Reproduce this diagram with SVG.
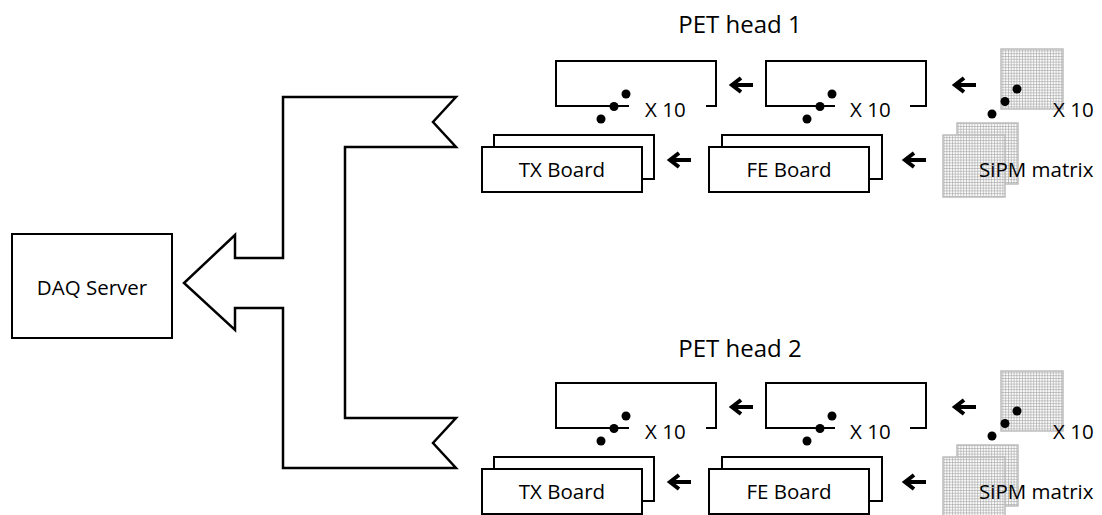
<svg xmlns="http://www.w3.org/2000/svg" xmlns:xlink="http://www.w3.org/1999/xlink" width="1102" height="515" viewBox="0 0 1102 515">
<style>
.box{fill:#fff;stroke:#000;stroke-width:2}
.br{fill:none;stroke:#000;stroke-width:2}
.t{font-family:"Open Sans","Liberation Sans",sans-serif;font-size:20.5px;fill:#000}
.th{font-family:"Open Sans","Liberation Sans",sans-serif;font-size:24px;fill:#000}
.dot{fill:#000}
.sipm{fill:url(#grid);stroke:#bdbdbd;stroke-width:1.5}
.arr{fill:none;stroke:#000;stroke-width:4;stroke-linejoin:miter}
.big{fill:#fff;stroke:#000;stroke-width:2.5;stroke-linejoin:miter}
</style>
<defs>
<pattern id="grid" patternUnits="userSpaceOnUse" x="0" y="0" width="2.8" height="2.8">
<rect width="2.8" height="2.8" fill="#fafafa"/>
<path d="M0,0.4H2.8M0.4,0V2.8" stroke="#9e9e9e" stroke-width="0.6"/>
</pattern>
<g id="sarr"><path class="arr" d="M24,0H4M12,-7L3,0L12,7"/></g>
<g id="dots3"><circle class="dot" cx="25" cy="0" r="4.5"/><circle class="dot" cx="13" cy="12.5" r="4.5"/><circle class="dot" cx="0" cy="25" r="4.5"/></g>
</defs>

<g id="daq-server">
<rect class="box" x="12" y="234" width="160" height="104"/>
<text class="t" x="92" y="295" text-anchor="middle">DAQ Server</text>
</g>

<g id="connectors">
<path class="big" d="M456,97 L433,122 L456,147 L345,147 L345,418 L456,418 L433,443 L456,468 L283,468 L283,308 L235,308 L235,330 L184,283 L235,235 L235,258 L283,258 L283,97 Z"/>
<use href="#sarr" x="729" y="85"/>
<use href="#sarr" x="952" y="85"/>
<use href="#sarr" x="667" y="160"/>
<use href="#sarr" x="902" y="160"/>
<use href="#sarr" x="729" y="407"/>
<use href="#sarr" x="952" y="407"/>
<use href="#sarr" x="667" y="482"/>
<use href="#sarr" x="902" y="482"/>
</g>

<g id="head1">
<text class="th" x="740" y="33" text-anchor="middle">PET head 1</text>
<g id="tx-bracket-1">
<path class="br" d="M629,106H556V61H716V106H706"/>
<use href="#dots3" x="601" y="94"/>
<text class="t" x="645" y="117">X 10</text>
</g>
<g id="fe-bracket-1">
<path class="br" d="M835,106H766V61H926V106H910"/>
<use href="#dots3" x="807" y="94"/>
<text class="t" x="850" y="117">X 10</text>
</g>
<g id="sipm-stack-1">
<rect class="sipm" x="1001" y="49" width="62" height="60"/>
<use href="#dots3" x="992" y="89"/>
<text class="t" x="1053" y="117">X 10</text>
</g>
<g id="tx-board-1">
<rect class="box" x="494" y="135" width="160" height="44"/>
<rect class="box" x="482" y="147" width="160" height="45"/>
<text class="t" x="562" y="177" text-anchor="middle">TX Board</text>
</g>
<g id="fe-board-1">
<rect class="box" x="722" y="135" width="160" height="44"/>
<rect class="box" x="709" y="147" width="160" height="45"/>
<text class="t" x="789" y="177" text-anchor="middle">FE Board</text>
</g>
<g id="sipm-matrix-1">
<rect class="sipm" x="957" y="123" width="61" height="61"/>
<rect class="sipm" x="943" y="135" width="62" height="62"/>
<text class="t" x="979" y="177">SiPM matrix</text>
</g>
</g>

<g id="head2" transform="translate(0,322)">
<text class="th" x="740" y="35" text-anchor="middle">PET head 2</text>
<g id="tx-bracket-2">
<path class="br" d="M629,106H556V61H716V106H706"/>
<use href="#dots3" x="601" y="94"/>
<text class="t" x="645" y="117">X 10</text>
</g>
<g id="fe-bracket-2">
<path class="br" d="M835,106H766V61H926V106H910"/>
<use href="#dots3" x="807" y="94"/>
<text class="t" x="850" y="117">X 10</text>
</g>
<g id="sipm-stack-2">
<rect class="sipm" x="1001" y="49" width="62" height="60"/>
<use href="#dots3" x="992" y="89"/>
<text class="t" x="1053" y="117">X 10</text>
</g>
<g id="tx-board-2">
<rect class="box" x="494" y="135" width="160" height="44"/>
<rect class="box" x="482" y="147" width="160" height="45"/>
<text class="t" x="562" y="177" text-anchor="middle">TX Board</text>
</g>
<g id="fe-board-2">
<rect class="box" x="722" y="135" width="160" height="44"/>
<rect class="box" x="709" y="147" width="160" height="45"/>
<text class="t" x="789" y="177" text-anchor="middle">FE Board</text>
</g>
<g id="sipm-matrix-2">
<rect class="sipm" x="957" y="123" width="61" height="61"/>
<rect class="sipm" x="943" y="135" width="62" height="62"/>
<text class="t" x="979" y="177">SiPM matrix</text>
</g>
</g>
</svg>
